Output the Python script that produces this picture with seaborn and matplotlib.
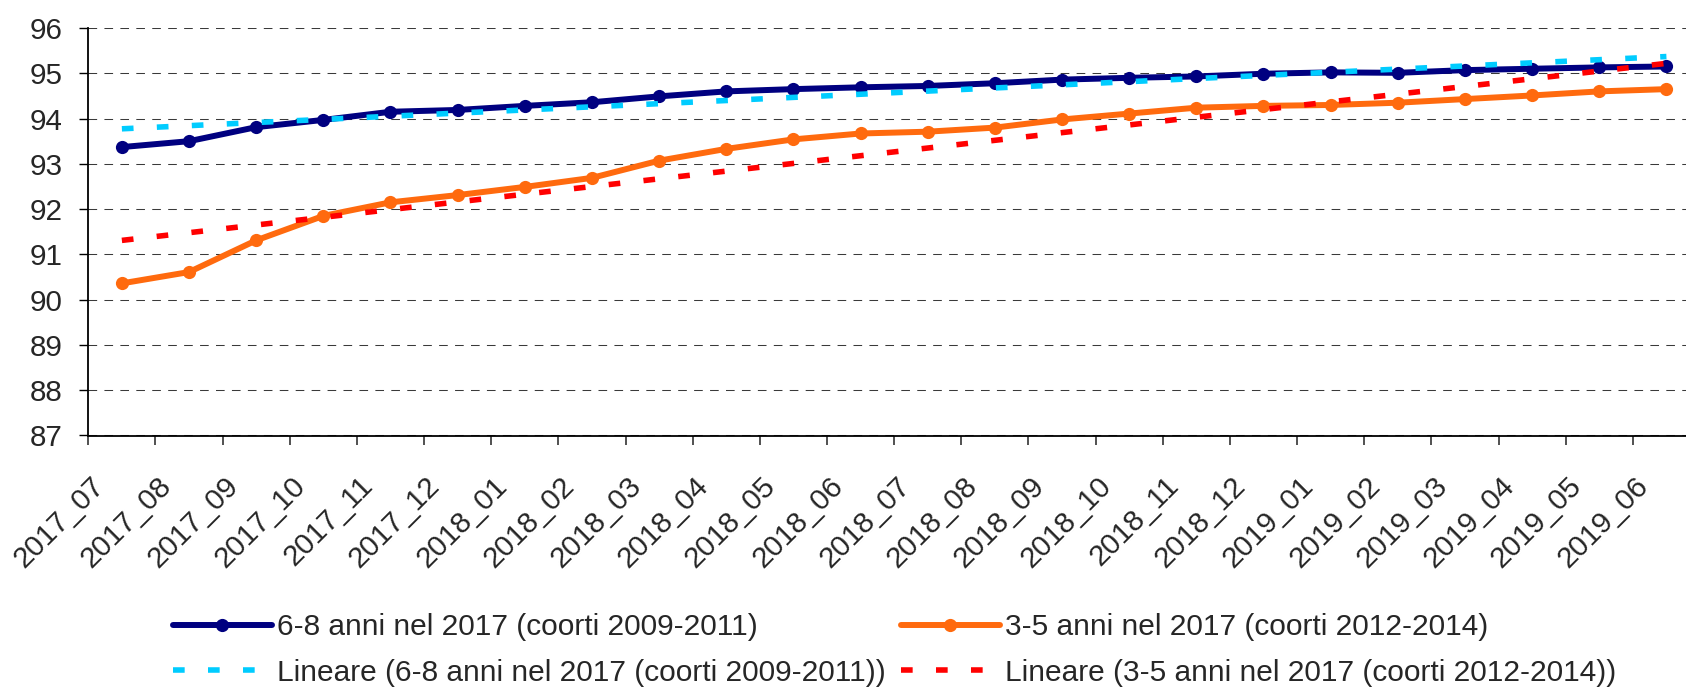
import numpy as np
import pandas as pd
import matplotlib
matplotlib.use("Agg")
import matplotlib.pyplot as plt
import matplotlib.transforms as mtransforms
from matplotlib.lines import Line2D
from matplotlib.ticker import FixedLocator, NullFormatter
import seaborn as sns

# Monthly values (percent) for the two cohorts
months = ["2017_07", "2017_08", "2017_09", "2017_10", "2017_11", "2017_12",
          "2018_01", "2018_02", "2018_03", "2018_04", "2018_05", "2018_06",
          "2018_07", "2018_08", "2018_09", "2018_10", "2018_11", "2018_12",
          "2019_01", "2019_02", "2019_03", "2019_04", "2019_05", "2019_06"]
older = [93.37, 93.50, 93.81, 93.97, 94.15, 94.19, 94.28, 94.36, 94.49, 94.60,
         94.65, 94.69, 94.72, 94.78, 94.86, 94.90, 94.93, 94.99, 95.02, 95.01,
         95.07, 95.10, 95.13, 95.15]
younger = [90.36, 90.61, 91.31, 91.85, 92.15, 92.31, 92.49, 92.69, 93.07, 93.33,
           93.54, 93.67, 93.71, 93.80, 93.98, 94.11, 94.24, 94.28, 94.30, 94.35,
           94.43, 94.51, 94.60, 94.65]
label_older = "6-8 anni nel 2017 (coorti 2009-2011)"
label_younger = "3-5 anni nel 2017 (coorti 2012-2014)"
label_older_fit = "Lineare (6-8 anni nel 2017 (coorti 2009-2011))"
label_younger_fit = "Lineare (3-5 anni nel 2017 (coorti 2012-2014))"
y_ticks = [87, 88, 89, 90, 91, 92, 93, 94, 95, 96]

sns.set_style("white")
plt.rcParams["font.family"] = ["Liberation Sans", "DejaVu Sans"]

NAVY = "#000080"
ORANGE = "#FF6A0E"
CYAN = "#00CCFF"
RED = "#FF0000"
FS = 21.3
FS_LEG = 21.5
LW = 4.3          # series lines
LW_FIT = 4.0      # trend lines
MS = 9.5
DASH = (2.1, 4.2)

x = np.arange(len(months))
df = pd.DataFrame({"x": x, "older": older, "younger": younger})

# Least-squares linear trends of each series
df["older_fit"] = np.polyval(np.polyfit(x, older, 1), x)
df["younger_fit"] = np.polyval(np.polyfit(x, younger, 1), x)

W, H = 1686, 688
fig = plt.figure(figsize=(W / 100, H / 100), dpi=100)
left, right, top, bottom = 88.3, 1700, 28, 435.5
ax = fig.add_axes([left / W, 1 - bottom / H, (right - left) / W, (bottom - top) / H])

line_kw = dict(linewidth=LW, marker="o", markersize=MS, markeredgewidth=0)
sns.lineplot(data=df, x="x", y="older", ax=ax, color=NAVY, zorder=3, **line_kw)
sns.lineplot(data=df, x="x", y="younger", ax=ax, color=ORANGE, zorder=3, **line_kw)

sns.lineplot(data=df, x="x", y="older_fit", ax=ax, color=CYAN, linewidth=LW_FIT, zorder=4)
ax.lines[-1].set_dashes(DASH)
sns.lineplot(data=df, x="x", y="younger_fit", ax=ax, color=RED, linewidth=LW_FIT, zorder=4)
ax.lines[-1].set_dashes(DASH)
for ln in ax.lines[-2:]:
    ln.set_dash_capstyle("butt")

ax.set_xlim(-0.5, len(months) - 0.5)
ax.set_ylim(87, 96)
ax.set_xlabel("")
ax.set_ylabel("")

# Horizontal dashed gridlines
ax.set_yticks(y_ticks)
ax.yaxis.grid(True, color="#3a3a3a", linewidth=0.75, linestyle=(0, (8.3, 7)))
ax.xaxis.grid(False)
ax.set_axisbelow(True)

# Category labels at centres, tick marks at category boundaries
ax.set_xticks(x)
ax.set_xticklabels(months, rotation=45, ha="right", va="center",
                   rotation_mode="anchor", fontsize=FS)
ax.xaxis.set_minor_locator(FixedLocator(np.arange(len(months)) - 0.5))
ax.xaxis.set_minor_formatter(NullFormatter())
ax.tick_params(axis="x", which="major", length=0, pad=33)
ax.tick_params(axis="x", which="minor", length=6.5, width=1.2, color="#333333",
               direction="out", bottom=True)
ax.tick_params(axis="y", which="major", length=6.5, width=1.0, color="black",
               direction="out", left=True, labelsize=FS, pad=12)

# Nudge the rotated month labels left so their ends sit under each category
shift = mtransforms.ScaledTranslation(-22 / 100, 0, fig.dpi_scale_trans)
for lab in ax.get_xticklabels():
    lab.set_transform(lab.get_transform() + shift)

for side in ("top", "right"):
    ax.spines[side].set_visible(False)
for side in ("left", "bottom"):
    ax.spines[side].set_color("black")
    ax.spines[side].set_linewidth(1.3)

handles = [
    Line2D([], [], color=NAVY, linewidth=LW, marker="o", markersize=MS, markeredgewidth=0),
    Line2D([], [], color=CYAN, linewidth=LW_FIT, dashes=DASH, dash_capstyle="butt"),
    Line2D([], [], color=ORANGE, linewidth=LW, marker="o", markersize=MS, markeredgewidth=0),
    Line2D([], [], color=RED, linewidth=LW_FIT, dashes=DASH, dash_capstyle="butt"),
]
labels = [label_older, label_older_fit, label_younger, label_younger_fit]
fig.legend(handles, labels, ncol=2, loc="center",
           bbox_to_anchor=(894.5 / W, 1 - 650 / H),
           frameon=False, fontsize=FS_LEG, handlelength=3.3, handletextpad=0.17,
           columnspacing=0.53, labelspacing=0.57, borderpad=0)

fig.savefig("out.png", dpi=100)
